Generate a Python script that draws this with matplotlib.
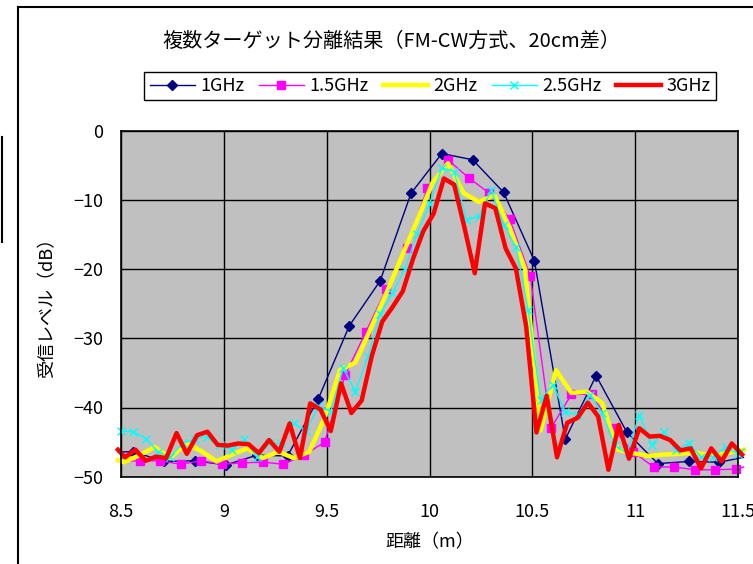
import matplotlib
matplotlib.use('Agg')
import matplotlib.pyplot as plt
from matplotlib.lines import Line2D

plt.rcParams['font.family'] = ['Noto Sans CJK JP', 'DejaVu Sans']

# distance [m] / received level [dB]
x_1g = [8.485, 8.56, 8.71, 8.86, 9.01, 9.16, 9.31, 9.46, 9.61, 9.76, 9.91, 10.06,
        10.21, 10.36, 10.51, 10.66, 10.81, 10.96, 11.11, 11.26, 11.41, 11.527]
y_1g = [-46.4, -46.4, -47.8, -47.7, -48.3, -46.9, -47.0, -38.7, -28.2, -21.7, -9.05, -3.3,
        -4.2, -8.9, -18.8, -44.6, -35.4, -43.6, -48.1, -47.8, -47.9, -47.2]

x_15g = [8.485, 8.59, 8.69, 8.79, 8.89, 8.99, 9.09, 9.19, 9.29, 9.39, 9.49, 9.59, 9.69,
         9.79, 9.89, 9.99, 10.09, 10.19, 10.29, 10.39, 10.49, 10.59, 10.69, 10.79, 10.89,
         10.99, 11.09, 11.19, 11.29, 11.39, 11.49, 11.527]
y_15g = [-47.8, -47.7, -47.7, -48.2, -47.7, -48.2, -48.0, -47.9, -48.2, -46.9, -45.0, -35.3, -29.1,
         -22.9, -16.9, -8.3, -4.2, -6.8, -9.0, -12.8, -21.0, -43.0, -38.1, -38.1, -43.0,
         -46.4, -48.6, -48.6, -49.0, -49.0, -48.9, -48.6]

x_2g = [8.485, 8.515, 8.59, 8.665, 8.74, 8.815, 8.89, 8.965, 9.04, 9.115, 9.19, 9.265, 9.34,
        9.415, 9.49, 9.565, 9.64, 9.715, 9.79, 9.865, 9.94, 10.015, 10.09, 10.165, 10.24,
        10.315, 10.39, 10.465, 10.54, 10.615, 10.69, 10.765, 10.84, 10.915, 10.99, 11.065,
        11.14, 11.215, 11.29, 11.365, 11.44, 11.53]
y_2g = [-47.6, -47.9, -46.9, -45.7, -47.3, -45.2, -46.3, -47.8, -46.8, -45.9, -47.3, -46.4, -47.3,
        -46.4, -41.5, -34.6, -33.5, -28.5, -23.5, -18.2, -13.0, -7.5, -4.7, -9.0, -10.3,
        -9.3, -14.0, -20.0, -43.3, -34.6, -37.9, -37.7, -39.4, -46.1, -46.6, -47.0,
        -46.8, -46.7, -46.5, -46.9, -46.6, -46.1]

x_25g = [8.50, 8.56, 8.62, 8.68, 8.74, 8.80, 8.86, 8.92, 8.98, 9.04, 9.10, 9.16, 9.22, 9.28,
         9.34, 9.40, 9.46, 9.52, 9.58, 9.64, 9.70, 9.76, 9.82, 9.88, 9.94, 10.00, 10.06,
         10.12, 10.18, 10.24, 10.30, 10.36, 10.42, 10.48, 10.54, 10.60, 10.66, 10.72, 10.78,
         10.84, 10.90, 10.96, 11.02, 11.08, 11.14, 11.20, 11.26, 11.32, 11.38, 11.44, 11.50, 11.53]
y_25g = [-43.4, -43.5, -44.5, -46.4, -47.1, -45.2, -44.5, -44.2, -45.4, -46.1, -44.6, -47.1, -45.2, -45.2,
         -42.3, -43.4, -39.8, -40.6, -34.3, -37.7, -32.7, -26.5, -23.5, -20.0, -14.9, -10.6, -5.4,
         -5.9, -12.9, -12.4, -8.6, -13.6, -16.8, -25.9, -38.9, -36.7, -40.6, -41.1, -38.2,
         -40.8, -45.4, -46.6, -41.1, -45.4, -43.5, -46.1, -45.2, -47.1, -47.1, -45.7, -46.7, -46.0]

x_3g = [8.485, 8.52, 8.57, 8.62, 8.67, 8.72, 8.77, 8.82, 8.87, 8.92, 8.97, 9.02, 9.07, 9.12,
        9.17, 9.22, 9.27, 9.32, 9.37, 9.42, 9.47, 9.52, 9.57, 9.62, 9.67, 9.72, 9.77, 9.82,
        9.87, 9.92, 9.97, 10.02, 10.07, 10.12, 10.17, 10.22, 10.27, 10.32, 10.37, 10.42,
        10.47, 10.52, 10.57, 10.62, 10.67, 10.72, 10.77, 10.82, 10.87, 10.92, 10.97, 11.02,
        11.07, 11.12, 11.17, 11.22, 11.27, 11.32, 11.37, 11.42, 11.47, 11.52]
y_3g = [-46.1, -47.2, -46.1, -47.7, -47.1, -47.3, -43.7, -46.7, -44.0, -43.5, -45.4, -45.5, -45.2, -45.3,
        -46.6, -44.7, -46.4, -42.3, -47.3, -39.4, -40.3, -43.4, -36.5, -40.8, -39.0, -32.5, -27.6, -25.5,
        -23.2, -18.5, -14.5, -12.0, -6.9, -7.8, -14.0, -20.6, -10.5, -11.2, -17.0, -19.9,
        -28.3, -43.6, -38.3, -47.2, -42.2, -41.5, -39.3, -41.3, -49.0, -42.5, -47.4, -43.0,
        -44.2, -44.1, -44.7, -46.2, -45.9, -48.8, -45.9, -47.8, -45.2, -46.8]

xticks = [8.5, 9, 9.5, 10, 10.5, 11, 11.5]
xtick_labels = ['8.5', '9', '9.5', '10', '10.5', '11', '11.5']
yticks = [0, -10, -20, -30, -40, -50]

fig = plt.figure(figsize=(7.53, 5.64), dpi=100)
ax = fig.add_axes([121 / 753, 1 - 476.7 / 564, (738 - 121) / 753, (476.7 - 130.7) / 564])
ax.set_facecolor('#c0c0c0')

ax.plot(x_1g, y_1g, color='#000080', lw=1, marker='D', ms=5, markevery=slice(1, -1),
        clip_on=False, label='1GHz')
ax.plot(x_15g, y_15g, color='#ff00ff', lw=1, marker='s', ms=5.5, markevery=slice(1, -1),
        clip_on=False, label='1.5GHz')
ax.plot(x_2g, y_2g, color='#ffff00', lw=3.2, clip_on=False, label='2GHz')
ax.plot(x_25g, y_25g, color='#00ffff', lw=1, marker='x', ms=6, mew=1, markevery=slice(0, -1),
        clip_on=False, label='2.5GHz')
ax.plot(x_3g, y_3g, color='#ff0000', lw=3.2, clip_on=False, label='3GHz')

ax.set_xlim(8.5, 11.5)
ax.set_ylim(-50, 0)
ax.set_xticks(xticks)
ax.set_xticklabels(xtick_labels)
ax.set_yticks(yticks)
ax.grid(True, color='black', lw=1)
ax.set_axisbelow(True)
ax.tick_params(length=0, labelsize=13)
ax.tick_params(axis='x', pad=19)
ax.tick_params(axis='y', pad=13)
for s in ax.spines.values():
    s.set_color('black')
    s.set_linewidth(1.2)

ax.set_xlabel('距離（m）', fontsize=13, labelpad=9)
ax.set_ylabel('受信レベル（dB）', fontsize=13, labelpad=12)

fig.text(391 / 753, 1 - 41 / 564, '複数ターゲット分離結果（FM-CW方式、20cm差）',
         ha='center', va='center', fontsize=14.5)

leg = ax.legend(loc='center', bbox_to_anchor=(430 / 753, 1 - 86 / 564),
                bbox_transform=fig.transFigure, ncol=5, fontsize=13, frameon=True,
                fancybox=False, framealpha=1, edgecolor='black', handlelength=2.5,
                handletextpad=0.3, columnspacing=0.8, borderpad=0.3)
leg.get_frame().set_linewidth(1)

# outer chart frame and stray edge at far left
fig.add_artist(Line2D([18 / 753, 18 / 753], [0, 1 - 7 / 564], color='black', lw=1.5))
fig.add_artist(Line2D([18 / 753, 1], [1 - 7 / 564, 1 - 7 / 564], color='black', lw=1.5))
fig.add_artist(Line2D([1.5 / 753, 1.5 / 753], [1 - 137 / 564, 1 - 242 / 564], color='black', lw=1.5))

fig.savefig('out.png', dpi=100)
